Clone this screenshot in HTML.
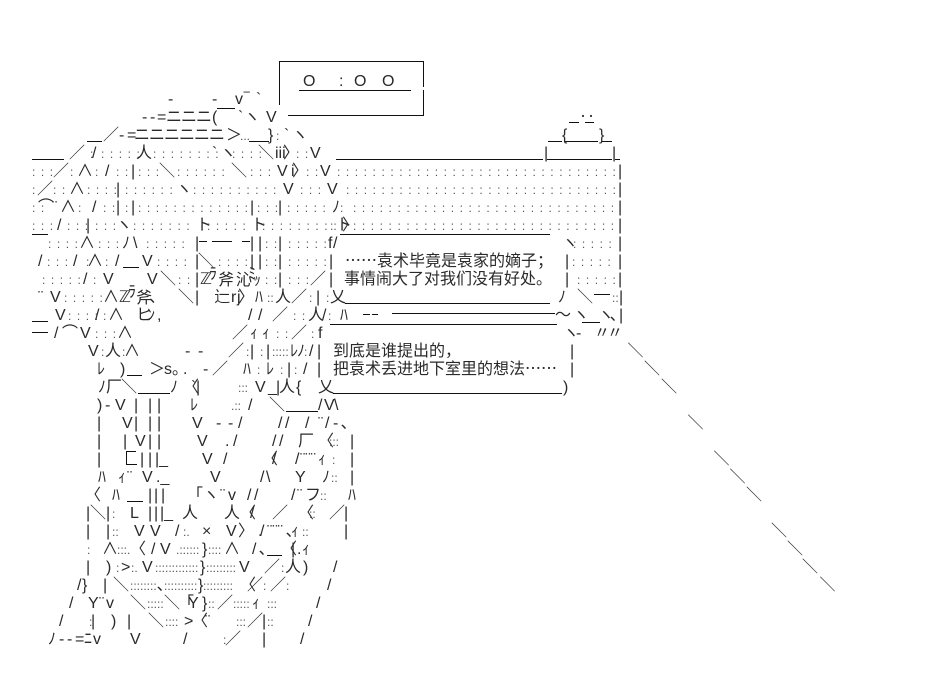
<!DOCTYPE html>
<html><head><meta charset="utf-8"><style>
html,body{margin:0;padding:0;background:#fff;width:932px;height:676px;overflow:hidden}
svg{display:block;position:absolute;left:0;top:0}
text{font-family:"Liberation Sans","WenQuanYi Zen Hei","Noto Sans CJK SC",sans-serif;font-size:16px;fill:#2a2a2a;white-space:pre}
rect{fill:#111;shape-rendering:crispEdges}
tspan.d{font-size:12px;letter-spacing:1.11px;fill:#555}
tspan.e{font-size:12px;fill:#555}
tspan.j,text.j{font-family:"Noto Sans CJK JP",sans-serif}
</style></head><body>
<svg width="932" height="676" viewBox="0 0 932 676" xmlns="http://www.w3.org/2000/svg">
<g>
<rect x="279" y="61" width="145" height="1"/><rect x="279" y="61" width="1" height="44"/><rect x="423" y="61" width="1" height="26"/><rect x="423" y="90" width="1" height="25"/>
<rect x="299" y="90" width="112" height="1"/><rect x="288" y="115" width="136" height="1"/>
<rect x="87" y="141" width="15" height="1"/><rect x="249" y="141" width="20" height="1"/><rect x="548" y="141" width="14" height="1"/><rect x="565" y="141" width="33" height="1"/><rect x="602" y="141" width="10" height="1"/>
<rect x="569" y="122" width="10" height="1"/><rect x="585" y="122" width="9" height="1"/><rect x="217" y="108" width="18" height="1"/>
<rect x="32" y="159" width="32" height="1"/><rect x="336" y="159" width="207" height="1"/><rect x="547" y="159" width="65" height="1"/><rect x="615" y="159" width="5" height="1"/>
<rect x="32" y="234" width="16" height="1"/><rect x="123" y="267" width="16" height="1"/>
<rect x="340" y="234" width="210" height="1"/><rect x="345" y="303" width="205" height="1"/>
<rect x="594" y="294" width="16" height="1"/><rect x="392" y="313" width="163" height="1"/><rect x="363" y="314" width="7" height="1"/><rect x="372" y="314" width="6" height="1"/>
<rect x="582" y="322" width="18" height="1"/><rect x="32" y="321" width="16" height="1"/><rect x="32" y="332" width="16" height="1"/>
<rect x="330" y="324" width="227" height="1"/><rect x="333" y="393" width="229" height="1"/>
<rect x="127" y="375" width="15" height="1"/><rect x="138" y="393" width="32" height="1"/><rect x="286" y="411" width="32" height="1"/>
<rect x="126" y="451" width="10" height="1"/><rect x="126" y="451" width="1" height="14"/><rect x="126" y="464" width="11" height="1"/>
<rect x="127" y="501" width="16" height="1"/><rect x="267" y="555" width="15" height="1"/>
<rect x="199" y="241" width="8" height="1"/><rect x="212" y="241" width="20" height="1"/><rect x="242" y="241" width="8" height="1"/>
</g>
<text x="200" y="284" font-size="14">ℤ</text><text x="209" y="279" font-size="11">ﾗ</text><text x="218" y="285">斧</text><text x="236" y="285" font-size="13">沁</text><text x="248" y="279" font-size="10">ﾐ</text><text x="253" y="285" font-size="11">ｯ</text>
<text x="119" y="302" font-size="14">ℤ</text><text x="128" y="297" font-size="11">ﾗ</text><text x="136" y="303">斧</text>
<text class="j" x="345" y="266">……</text>
<text y="86"><tspan x="303">O</tspan><tspan x="339">:</tspan><tspan x="354">O</tspan><tspan x="382">O</tspan></text>
<text y="104"><tspan x="235">v</tspan><tspan x="244">‾</tspan><tspan x="256">`</tspan><tspan x="168">-</tspan><tspan x="212">-</tspan></text>
<text y="122"><tspan x="142">-</tspan><tspan x="150">-</tspan><tspan x="157">=</tspan><tspan x="166" letter-spacing="-1">ニニニ</tspan><tspan x="212">(</tspan><tspan x="238">`</tspan><tspan x="244">ヽ</tspan><tspan x="266">V</tspan><tspan x="579">‥</tspan></text>
<text y="140"><tspan x="119">-</tspan><tspan x="127">=</tspan><tspan x="134" letter-spacing="-1">ニニニニニニ</tspan><tspan x="226">＞</tspan><tspan x="240" class="e">...</tspan><tspan x="268">}</tspan><tspan x="276" class="d">:</tspan><tspan x="284">`</tspan><tspan x="292">ヽ</tspan><tspan x="103">／</tspan><tspan x="562">{</tspan><tspan x="599">}</tspan></text>
<text y="158"><tspan x="69">／</tspan><tspan x="90" class="d">:</tspan><tspan x="92">/</tspan><tspan x="101" class="d">: : : : :</tspan><tspan x="136">人</tspan><tspan x="153" class="d">: : : : : : : :</tspan><tspan x="212">`</tspan><tspan x="220">ヽ</tspan><tspan x="232" class="d">: : : :</tspan><tspan x="258">＼</tspan><tspan x="275">iii</tspan><tspan x="283">〉</tspan><tspan x="296" class="d">: :</tspan><tspan x="310">V</tspan><tspan x="544">|</tspan><tspan x="612">|</tspan></text>
<text y="176"><tspan x="32" class="d">: : :</tspan><tspan x="53">／</tspan><tspan x="70" class="d">:</tspan><tspan x="77">∧</tspan><tspan x="95" class="d">:</tspan><tspan x="105">/</tspan><tspan x="116" class="d">: :</tspan><tspan x="131">|</tspan><tspan x="138" class="d">: : :</tspan><tspan x="159">＼</tspan><tspan x="177" class="d">: : : : : :</tspan><tspan x="231">＼</tspan><tspan x="250" class="d">: : :</tspan><tspan x="277">V</tspan><tspan x="291">i</tspan><tspan x="292">〉</tspan><tspan x="306" class="d">: :</tspan><tspan x="320">V</tspan><tspan x="337" class="d">: : : : : : : : : : : : : : : : : : : : : : : : : : : : : : : :</tspan><tspan x="618">|</tspan></text>
<text y="194"><tspan x="32" class="d">:</tspan><tspan x="37">／</tspan><tspan x="53" class="d">: :</tspan><tspan x="69">∧</tspan><tspan x="87" class="d">: : : :</tspan><tspan x="116">|</tspan><tspan x="125" class="d">: : : : : :</tspan><tspan x="176">ヽ</tspan><tspan x="193" class="d">: : : : : : : : : :</tspan><tspan x="283">V</tspan><tspan x="300" class="d">: : :</tspan><tspan x="327">V</tspan><tspan x="346" class="d">: : : : : : : : : : : : : : : : : : : : : : : : : : : : : : :</tspan><tspan x="618">|</tspan></text>
<text y="212"><tspan x="32" class="d">: :</tspan><tspan x="38">⌒</tspan><tspan x="52">¨</tspan><tspan x="60">∧</tspan><tspan x="78" class="d">:</tspan><tspan x="92">/</tspan><tspan x="103" class="d">: :</tspan><tspan x="116">|</tspan><tspan x="125" class="d">:</tspan><tspan x="131">|</tspan><tspan x="138" class="d">: : : : : : : : : : : : :</tspan><tspan x="250">|</tspan><tspan x="257" class="d">: : :</tspan><tspan x="278">|</tspan><tspan x="287" class="d">: : : : :</tspan><tspan x="332">ﾉ</tspan><tspan x="340" class="d">:</tspan><tspan x="353" class="d">: : : : : : : : : : : : : : : : : : : : : : : : : : : : : :</tspan><tspan x="618">|</tspan></text>
<text y="230"><tspan x="32" class="d">: : :</tspan><tspan x="57">/</tspan><tspan x="67" class="d">: : :</tspan><tspan x="86">|</tspan><tspan x="95" class="d">: : :</tspan><tspan x="116">ヽ</tspan><tspan x="133" class="d">: : : : : : :</tspan><tspan x="196">ト</tspan><tspan x="207" class="d">: : : : :</tspan><tspan x="251">ト</tspan><tspan x="262" class="d">: : : : : : : :</tspan><tspan x="330" class="e">::</tspan><tspan x="336">ト</tspan><tspan x="342">〉</tspan><tspan x="353" class="d">: : : : : : : : : : : : : : : : : : : : : : : : : : : : : :</tspan><tspan x="618">|</tspan></text>
<text y="248"><tspan x="48" class="d">: : : :</tspan><tspan x="79">∧</tspan><tspan x="98" class="d">: : :</tspan><tspan x="122">ﾉ</tspan><tspan x="133">\</tspan><tspan x="146" class="d">: : : : :</tspan><tspan x="195">|</tspan><tspan x="250">|</tspan><tspan x="258">|</tspan><tspan x="265" class="d">: :</tspan><tspan x="278">|</tspan><tspan x="288" class="d">: : : : :</tspan><tspan x="328">f</tspan><tspan x="333">/</tspan><tspan x="562">ヽ</tspan><tspan x="573" class="d">: : : : :</tspan><tspan x="618">|</tspan></text>
<text y="266"><tspan x="38">/</tspan><tspan x="47" class="d">: : :</tspan><tspan x="73">/</tspan><tspan x="86" class="d">:</tspan><tspan x="87">∧</tspan><tspan x="105" class="d">:</tspan><tspan x="115">/</tspan><tspan x="142">V</tspan><tspan x="157" class="d">: : : :</tspan><tspan x="195">|</tspan><tspan x="198">＼</tspan><tspan x="218" class="d">: : : :</tspan><tspan x="250">|</tspan><tspan x="258">|</tspan><tspan x="265" class="d">: :</tspan><tspan x="278">|</tspan><tspan x="288" class="d">: : : : :</tspan><tspan x="329">|</tspan><tspan x="377">袁术毕竟是袁家的嫡子；</tspan><tspan x="565">|</tspan><tspan x="572" class="d">: : : : :</tspan><tspan x="618">|</tspan></text>
<text y="284"><tspan x="42" class="d">: : : : :</tspan><tspan x="83">/</tspan><tspan x="93" class="d">:</tspan><tspan x="103">V</tspan><tspan x="147">V</tspan><tspan x="160">＼</tspan><tspan x="178" class="d">: :</tspan><tspan x="195">|</tspan><tspan x="265" class="d">: :</tspan><tspan x="278">|</tspan><tspan x="288" class="d">: : :</tspan><tspan x="310">／</tspan><tspan x="329">|</tspan><tspan x="344">事情闹大了对我们没有好处。</tspan><tspan x="565">|</tspan><tspan x="577" class="d">: : : : :</tspan><tspan x="618">|</tspan></text>
<text y="302"><tspan x="38">¨</tspan><tspan x="50">V</tspan><tspan x="64" class="d">: : : : :</tspan><tspan x="103">∧</tspan><tspan x="149">、</tspan><tspan x="178">＼</tspan><tspan x="195">|</tspan><tspan x="214">辷</tspan><tspan x="231">r</tspan><tspan x="237">j</tspan><tspan x="238">〉</tspan><tspan x="255">ﾊ</tspan><tspan x="267" class="e">::</tspan><tspan x="275">人</tspan><tspan x="291">／</tspan><tspan x="309" class="d">:</tspan><tspan x="316">|</tspan><tspan x="326" class="d">:</tspan><tspan x="330">乂</tspan><tspan x="558">ﾉ</tspan><tspan x="577">＼</tspan><tspan x="612" class="e">::</tspan><tspan x="619">|</tspan></text>
<text y="320"><tspan x="55">V</tspan><tspan x="68" class="d">: : : :</tspan><tspan x="95">/</tspan><tspan x="103" class="d">:</tspan><tspan x="108">∧</tspan><tspan x="136">ヒ</tspan><tspan x="147">ﾝ</tspan><tspan x="157">,</tspan><tspan x="248">/</tspan><tspan x="258">/</tspan><tspan x="272">／</tspan><tspan x="293" class="d">: :</tspan><tspan x="308">人</tspan><tspan x="322">/</tspan><tspan x="328" class="d">:</tspan><tspan x="340">ﾊ</tspan><tspan x="555">〜</tspan><tspan x="573">ヽ</tspan><tspan x="598">ヽ</tspan><tspan x="610">､</tspan><tspan x="619">|</tspan></text>
<text y="338"><tspan x="54">/</tspan><tspan x="62">⌒</tspan><tspan x="80">V</tspan><tspan x="95" class="d">: : :</tspan><tspan x="117">∧</tspan><tspan x="232">／</tspan><tspan x="250">ｨ</tspan><tspan x="262">ｨ</tspan><tspan x="276" class="d">: :</tspan><tspan x="291">／</tspan><tspan x="311" class="d">:</tspan><tspan x="318">f</tspan><tspan x="563">ヽ</tspan><tspan x="576">-</tspan><tspan x="594">〃</tspan><tspan x="607">〃</tspan></text>
<text y="356"><tspan x="88">V</tspan><tspan x="101" class="d">:</tspan><tspan x="105">人</tspan><tspan x="122" class="d">:</tspan><tspan x="124">∧</tspan><tspan x="185">-</tspan><tspan x="198">-</tspan><tspan x="228">／</tspan><tspan x="246" class="d">:</tspan><tspan x="250">|</tspan><tspan x="260" class="d">:</tspan><tspan x="266">|</tspan><tspan x="272" class="e">:::::</tspan><tspan x="290">ﾚ</tspan><tspan x="297">ﾉ</tspan><tspan x="304" class="d">:</tspan><tspan x="309">/</tspan><tspan x="317">|</tspan><tspan x="333">到底是谁提出的，</tspan><tspan x="570">|</tspan><tspan x="627.5">＼</tspan></text>
<text y="374"><tspan x="97">ﾚ</tspan><tspan x="120">)</tspan><tspan x="149">＞</tspan><tspan x="164">s</tspan><tspan x="172">。</tspan><tspan x="183">.</tspan><tspan x="203">-</tspan><tspan x="212">／</tspan><tspan x="243">ﾊ</tspan><tspan x="257" class="d">:</tspan><tspan x="266">ﾚ</tspan><tspan x="280" class="d">:</tspan><tspan x="287">|</tspan><tspan x="294" class="d">:</tspan><tspan x="303">/</tspan><tspan x="317">|</tspan><tspan x="333">把袁术丢进地下室里的想法</tspan><tspan x="525" class="j">……</tspan><tspan x="570">|</tspan><tspan x="644">＼</tspan></text>
<text y="392"><tspan x="98">ﾉ</tspan><tspan x="106">厂</tspan><tspan x="121">＼</tspan><tspan x="170">ﾉ</tspan><tspan x="183">〈</tspan><tspan x="191">`</tspan><tspan x="196">|</tspan><tspan x="238" class="e">:::</tspan><tspan x="255">V</tspan><tspan x="268">_</tspan><tspan x="276">|</tspan><tspan x="279">人</tspan><tspan x="296">{</tspan><tspan x="318">乂</tspan><tspan x="563">)</tspan><tspan x="661">＼</tspan></text>
<text y="410"><tspan x="97">)</tspan><tspan x="105">-</tspan><tspan x="115">V</tspan><tspan x="134">|</tspan><tspan x="148">|</tspan><tspan x="157">|</tspan><tspan x="190">ﾚ</tspan><tspan x="231" class="e">.::</tspan><tspan x="248">/</tspan><tspan x="269">＼</tspan><tspan x="318">/</tspan><tspan x="324">V</tspan><tspan x="334">\</tspan></text>
<text y="428"><tspan x="97">|</tspan><tspan x="122">V</tspan><tspan x="134">|</tspan><tspan x="148">|</tspan><tspan x="157">|</tspan><tspan x="192">V</tspan><tspan x="216">-</tspan><tspan x="228">-</tspan><tspan x="238">/</tspan><tspan x="278">/</tspan><tspan x="285">/</tspan><tspan x="305">/</tspan><tspan x="318">¨</tspan><tspan x="325">/</tspan><tspan x="333">-</tspan><tspan x="341">､</tspan><tspan x="687.5">＼</tspan></text>
<text y="446"><tspan x="97">|</tspan><tspan x="123">|</tspan><tspan x="135">V</tspan><tspan x="148">|</tspan><tspan x="157">|</tspan><tspan x="197">V</tspan><tspan x="225">.</tspan><tspan x="233">/</tspan><tspan x="272">/</tspan><tspan x="279">/</tspan><tspan x="298">厂</tspan><tspan x="318">〈</tspan><tspan x="329" class="e">:::</tspan><tspan x="350">|</tspan></text>
<text y="464"><tspan x="97">|</tspan><tspan x="140">|</tspan><tspan x="148">|</tspan><tspan x="155">|_</tspan><tspan x="202">V</tspan><tspan x="223">/</tspan><tspan x="262">〈</tspan><tspan x="272">/</tspan><tspan x="295">/</tspan><tspan x="300">¨¨¨</tspan><tspan x="318">ｨ</tspan><tspan x="332" class="d">:</tspan><tspan x="350">|</tspan><tspan x="713.5">＼</tspan></text>
<text y="482"><tspan x="98">ﾊ</tspan><tspan x="118">ｨ</tspan><tspan x="127">¨</tspan><tspan x="142">V</tspan><tspan x="156">._</tspan><tspan x="210">V</tspan><tspan x="260">/</tspan><tspan x="266">\</tspan><tspan x="295">Y</tspan><tspan x="322">ﾉ</tspan><tspan x="331" class="e">::</tspan><tspan x="350">|</tspan><tspan x="729.5">＼</tspan></text>
<text y="500"><tspan x="85">〈</tspan><tspan x="112">ﾊ</tspan><tspan x="148">|</tspan><tspan x="154">|</tspan><tspan x="161">|</tspan><tspan x="187">「</tspan><tspan x="203">ヽ</tspan><tspan x="220">¨</tspan><tspan x="228">v</tspan><tspan x="247">/</tspan><tspan x="254">/</tspan><tspan x="291">/</tspan><tspan x="297">¨</tspan><tspan x="305">フ</tspan><tspan x="320" class="e">::</tspan><tspan x="348">ﾊ</tspan><tspan x="746">＼</tspan></text>
<text y="518"><tspan x="86">|</tspan><tspan x="90">＼</tspan><tspan x="106">|</tspan><tspan x="112" class="d">:</tspan><tspan x="130">L</tspan><tspan x="148">|</tspan><tspan x="154">|</tspan><tspan x="160">|_</tspan><tspan x="182">人</tspan><tspan x="224">人</tspan><tspan x="240">〈</tspan><tspan x="250">/</tspan><tspan x="272">／</tspan><tspan x="298">〈</tspan><tspan x="309" class="e">::</tspan><tspan x="329">／</tspan><tspan x="344">|</tspan></text>
<text y="536"><tspan x="86">|</tspan><tspan x="106">|</tspan><tspan x="112" class="e">::</tspan><tspan x="134">V</tspan><tspan x="150">V</tspan><tspan x="175">/</tspan><tspan x="183" class="e">:.</tspan><tspan x="202">×</tspan><tspan x="226">V</tspan><tspan x="238">〉</tspan><tspan x="258">.</tspan><tspan x="260">/</tspan><tspan x="267">¨¨¨</tspan><tspan x="286">､</tspan><tspan x="291">ｨ</tspan><tspan x="302" class="e">::</tspan><tspan x="344">|</tspan><tspan x="771">＼</tspan></text>
<text y="554"><tspan x="87" class="d">:</tspan><tspan x="102">∧</tspan><tspan x="117" class="e">:::.</tspan><tspan x="130">〈</tspan><tspan x="151">/</tspan><tspan x="160">V</tspan><tspan x="176" class="e">.::::::</tspan><tspan x="202">}</tspan><tspan x="208" class="e">::::</tspan><tspan x="224">∧</tspan><tspan x="252">/</tspan><tspan x="259">､</tspan><tspan x="281">〈</tspan><tspan x="291">|</tspan><tspan x="297">.</tspan><tspan x="302">ｨ</tspan><tspan x="787">＼</tspan></text>
<text y="572"><tspan x="86">|</tspan><tspan x="106">)</tspan><tspan x="116" class="d">:</tspan><tspan x="121">&gt;</tspan><tspan x="131" class="e">:.</tspan><tspan x="142">V</tspan><tspan x="155" class="e">:::::::::::::</tspan><tspan x="200">}</tspan><tspan x="206" class="e">:::::::::</tspan><tspan x="239">V</tspan><tspan x="264">／</tspan><tspan x="281" class="d">:</tspan><tspan x="285">人</tspan><tspan x="303">)</tspan><tspan x="333">/</tspan><tspan x="802">＼</tspan></text>
<text y="590"><tspan x="77">/</tspan><tspan x="82">}</tspan><tspan x="103">|</tspan><tspan x="113">＼</tspan><tspan x="130" class="e">::::::::</tspan><tspan x="157">､</tspan><tspan x="164" class="e">::::::::::</tspan><tspan x="198">}</tspan><tspan x="203" class="e">:::::::::</tspan><tspan x="240">〈</tspan><tspan x="247">／</tspan><tspan x="263" class="d">:</tspan><tspan x="270">／</tspan><tspan x="286" class="d">:</tspan><tspan x="327">/</tspan><tspan x="819.5">＼</tspan></text>
<text y="608"><tspan x="69">/</tspan><tspan x="88">Y</tspan><tspan x="99">¨</tspan><tspan x="106">v</tspan><tspan x="130">＼</tspan><tspan x="147" class="e">:::::</tspan><tspan x="164">＼</tspan><tspan x="178">「</tspan><tspan x="188">Y</tspan><tspan x="202">}</tspan><tspan x="208" class="e">::</tspan><tspan x="217">／</tspan><tspan x="233" class="e">:::::</tspan><tspan x="252">ｨ</tspan><tspan x="267" class="e">:::</tspan><tspan x="316">/</tspan></text>
<text y="626"><tspan x="59">/</tspan><tspan x="89" class="d">:</tspan><tspan x="91">|</tspan><tspan x="111">)</tspan><tspan x="127">|</tspan><tspan x="148">＼</tspan><tspan x="165" class="e">::::</tspan><tspan x="184">&gt;</tspan><tspan x="192">〈</tspan><tspan x="205">¨</tspan><tspan x="236" class="e">:::</tspan><tspan x="247">／</tspan><tspan x="262">|</tspan><tspan x="267" class="e">::</tspan><tspan x="308">/</tspan></text>
<text y="644"><tspan x="48">ﾉ</tspan><tspan x="59">-</tspan><tspan x="67">-</tspan><tspan x="75">=</tspan><tspan x="84">ﾆ</tspan><tspan x="93">v</tspan><tspan x="130">V</tspan><tspan x="183">/</tspan><tspan x="223" class="d">:</tspan><tspan x="225">／</tspan><tspan x="262">|</tspan><tspan x="300">/</tspan></text>
</svg>
</body></html>
